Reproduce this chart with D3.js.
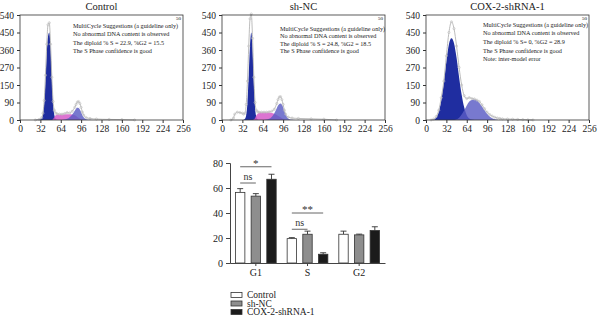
<!DOCTYPE html>
<html>
<head>
<meta charset="utf-8">
<script src="https://cdn.jsdelivr.net/npm/d3@7"></script>
<style>
  body { margin: 0; background: #fff; }
  svg text { font-family: "Liberation Serif", "Times New Roman", "DejaVu Serif", serif !important; }
</style>
</head>
<body>
<script>
// ---- histogram data (channel, counts) ----
const yTickVals = [0, 90, 180, 270, 360, 450, 540];
const yTickLabels = ["0", "90", "150", "270", "360", "450", "540"];
const xTickVals = [0, 32, 64, 96, 128, 160, 192, 224, 256];

const ctrlCh  = [24,30,34,36,38,40,42,44,46,48,50,52,54,56,58,62,66,70,74,78,82,86,88,90,92,94,96,98,100,104,110,120,140,160,180];
const ctrlRaw = [0,3,12,35,100,230,390,490,500,390,220,95,50,36,32,30,30,33,38,36,45,65,80,92,95,85,65,40,25,12,8,5,3,2,0];
const ctrlG1  = [0,2,8,28,85,200,340,430,450,370,210,80,24,6,1,0,0,0,0,0,0,0,0,0,0,0,0,0,0,0,0,0,0,0,0];
const ctrlS   = [0,0,0,0,0,0,0,0,0,0,0,5,15,24,28,28,28,30,30,30,28,24,20,16,12,8,4,1,0,0,0,0,0,0,0];
const ctrlG2  = [0,0,0,0,0,0,0,0,0,0,0,0,0,0,0,0,0,2,6,14,28,48,58,63,62,54,40,25,14,4,1,0,0,0,0];

const ncCh  = [14,18,20,24,28,32,34,36,38,40,42,44,46,48,50,52,54,56,58,62,66,70,74,78,82,86,88,90,92,94,96,98,100,104,110,120,140,160,180];
const ncRaw = [0,10,30,40,38,35,30,35,80,200,380,520,545,420,220,90,50,42,40,40,40,40,42,45,55,85,105,118,120,105,80,50,30,15,10,8,6,4,0];
const ncG1  = [0,0,0,0,0,0,1,6,25,90,230,380,450,360,190,60,15,3,0,0,0,0,0,0,0,0,0,0,0,0,0,0,0,0,0,0,0,0,0];
const ncS   = [0,0,0,0,0,0,0,0,0,0,0,0,0,0,2,10,24,32,36,38,38,38,38,36,32,26,22,18,14,10,6,3,0,0,0,0,0,0,0];
const ncG2  = [0,0,0,0,0,0,0,0,0,0,0,0,0,0,0,0,0,0,0,0,0,2,6,16,34,60,74,82,85,80,65,45,28,8,1,0,0,0,0];

const coxCh  = [8,12,16,20,24,28,32,36,40,44,48,52,56,60,64,68,72,76,80,84,88,92,96,100,104,108,112,116,120,128,136,144,152,160,168];
const coxRaw = [0,5,18,50,115,200,330,450,505,470,380,270,180,125,110,115,110,108,102,95,78,58,40,28,20,14,10,8,6,5,4,3,2,1,0];
const coxG1  = [0,2,12,40,100,190,300,390,420,395,320,220,130,65,25,8,2,0,0,0,0,0,0,0,0,0,0,0,0,0,0,0,0,0,0];
const coxG2  = [0,0,0,0,0,0,0,0,0,0,4,12,28,50,75,95,103,105,100,88,70,50,32,18,9,4,1,0,0,0,0,0,0,0,0];

const ctrlNotes = ["MultiCycle Suggestions (a guideline only)", "No abnormal DNA content is observed",
  "The diploid % S = 22.9, %G2 = 15.5", "The S Phase confidence is good"];
const ncNotes = ["MultiCycle Suggestions (a guideline only)", "No abnormal DNA content is observed",
  "The diploid % S = 24.8, %G2 = 18.5", "The S Phase confidence is good"];
const coxNotes = ["MultiCycle Suggestions (a guideline only)", "No abnormal DNA content is observed",
  "The diploid % S= 0, %G2 = 28.9", "The S Phase confidence is good", "Note: inter-model error"];

// ---- bar chart data ----
const phases = ["G1", "S", "G2"];
const groups = ["Control", "sh-NC", "COX-2-shRNA-1"];
const meanControl = [56.5, 19.5, 23];
const meanNC      = [53.5, 23, 22.5];
const meanCOX     = [67, 7, 26];
const errControl  = [3, 0.8, 2.5];
const errNC       = [2, 2.5, 0.6];
const errCOX      = [4, 1.2, 3];
const barTicks = [0, 20, 40, 60, 80];

const FONT = "'Liberation Serif', 'Times New Roman', serif";
const svg = d3.select("body").append("svg").attr("width", 600).attr("height", 326)
  .attr("font-family", FONT);

function histPanel(x0, title, ch, raw, g1, s, g2, notes, noteX, noteYs) {
  const x = d3.scaleLinear().domain([0, 256]).range([x0, x0 + 163]);
  const y = d3.scaleLinear().domain([0, 540]).range([120, 15]);
  const g = svg.append("g");

  g.append("text").attr("x", x(128)).attr("y", 10).attr("text-anchor", "middle")
    .attr("font-size", 10.5).attr("fill", "#222").text(title);

  const area = vals => d3.area().curve(d3.curveMonotoneX)
    .x((d, i) => x(ch[i])).y0(y(0)).y1((d, i) => y(vals[i]))(vals);

  g.append("path").attr("d", area(g1)).attr("fill", "#1f2da0");
  if (s) g.append("path").attr("d", area(s)).attr("fill", "#d65cc9").attr("opacity", 0.85);
  g.append("path").attr("d", area(g2)).attr("fill", "#5a5cc4").attr("opacity", 0.82);

  const line = d3.line().curve(d3.curveMonotoneX).x((d, i) => x(ch[i])).y(d => y(d));
  g.append("path").attr("d", line(raw)).attr("fill", "none").attr("stroke", "#b4b4b4").attr("stroke-width", 0.9);
  g.selectAll("circle").data(raw).enter().append("circle")
    .attr("cx", (d, i) => x(ch[i])).attr("cy", d => y(d)).attr("r", 1.1)
    .attr("fill", "none").attr("stroke", "#bdbdbd").attr("stroke-width", 0.6);

  // frame
  g.append("rect").attr("x", x(0)).attr("y", y(540)).attr("width", x(256) - x(0))
    .attr("height", y(0) - y(540)).attr("fill", "none").attr("stroke", "#333").attr("stroke-width", 0.8);

  const ya = g.append("g").attr("transform", `translate(${x(0)},0)`)
    .call(d3.axisLeft(y).tickValues(yTickVals).tickFormat((d, i) => yTickLabels[i]).tickSize(3).tickPadding(3));
  const xa = g.append("g").attr("transform", `translate(0,${y(0)})`)
    .call(d3.axisBottom(x).tickValues(xTickVals).tickSize(3).tickPadding(2));
  [ya, xa].forEach(a => {
    a.attr("font-family", FONT);
    a.select(".domain").remove();
    a.selectAll("line").attr("stroke", "#333");
    a.selectAll("text").attr("font-size", 9.5).attr("fill", "#222");
  });

  g.append("text").attr("x", x(256) - 2).attr("y", y(540) + 5).attr("text-anchor", "end")
    .attr("font-size", 5).text("50");
  notes.forEach((t, i) => {
    g.append("text").attr("x", noteX).attr("y", noteYs[i] + 2.2).attr("font-size", 6.2)
      .attr("fill", "#222").text(t);
  });
}

histPanel(20, "Control", ctrlCh, ctrlRaw, ctrlG1, ctrlS, ctrlG2, ctrlNotes, 73, [26, 34, 42.5, 51]);
histPanel(222, "sh-NC", ncCh, ncRaw, ncG1, ncS, ncG2, ncNotes, 280, [28.5, 36, 43.5, 51]);
histPanel(426, "COX-2-shRNA-1", coxCh, coxRaw, coxG1, null, coxG2, coxNotes, 483, [25, 33, 42, 51, 59]);

// ---- bar chart ----
const bx = d3.scaleBand().domain(phases).range([230, 385]);
const bInner = d3.scaleBand().domain(groups).range([0, bx.bandwidth()]).paddingInner(0.4).paddingOuter(0.35);
const by = d3.scaleLinear().domain([0, 80]).range([263, 163]);
const means = [meanControl, meanNC, meanCOX];
const errs = [errControl, errNC, errCOX];
const fills = ["#ffffff", "#8e8e8e", "#1b1b1b"];

const bg = svg.append("g");
const barData = [];
phases.forEach((p, pi) => groups.forEach((gname, gi) => {
  barData.push({ p, gname, gi, v: means[gi][pi], e: errs[gi][pi] });
}));

bg.selectAll(".err").data(barData).enter().append("path")
  .attr("d", d => {
    const cx = bx(d.p) + bInner(d.gname) + bInner.bandwidth() / 2;
    const top = by(d.v + d.e);
    return `M${cx},${by(d.v)}V${top}M${cx - 3},${top}H${cx + 3}`;
  })
  .attr("stroke", "#333").attr("stroke-width", 0.9).attr("fill", "none");

bg.selectAll(".bar").data(barData).enter().append("rect")
  .attr("x", d => bx(d.p) + bInner(d.gname))
  .attr("y", d => by(d.v))
  .attr("width", bInner.bandwidth())
  .attr("height", d => by(0) - by(d.v))
  .attr("fill", d => fills[d.gi]).attr("stroke", "#333").attr("stroke-width", 0.8);

const bya = bg.append("g").attr("transform", "translate(230,0)")
  .call(d3.axisLeft(by).tickValues(barTicks).tickSize(4).tickPadding(3));
const bxa = bg.append("g").attr("transform", "translate(0,263)")
  .call(d3.axisBottom(bx).tickSize(3).tickPadding(3).tickSizeOuter(0));
[bya, bxa].forEach(a => {
  a.attr("font-family", FONT);
  a.select(".domain").attr("stroke", "#444");
  a.selectAll("line").attr("stroke", "#444");
  a.selectAll("text").attr("font-size", 10).attr("fill", "#222");
});

// significance marks
const sig = [
  { p: "G1", a: 0, b: 1, v: 64, label: "ns" },
  { p: "G1", a: 0, b: 2, v: 77, label: "*" },
  { p: "S", a: 0, b: 1, v: 27, label: "ns" },
  { p: "S", a: 0, b: 2, v: 40, label: "**" }
];
sig.forEach(d => {
  const xa = bx(d.p) + bInner(groups[d.a]) + bInner.bandwidth() / 2;
  const xb = bx(d.p) + bInner(groups[d.b]) + bInner.bandwidth() / 2;
  bg.append("line").attr("x1", xa).attr("x2", xb).attr("y1", by(d.v)).attr("y2", by(d.v))
    .attr("stroke", "#555").attr("stroke-width", 0.9);
  bg.append("text").attr("x", (xa + xb) / 2).attr("y", by(d.v) - (d.label === "ns" ? 3 : 0))
    .attr("text-anchor", "middle").attr("font-size", d.label === "ns" ? 10 : 11)
    .attr("fill", "#333").text(d.label);
});

// legend
groups.forEach((gname, i) => {
  const ly = 295 + i * 8.5;
  svg.append("rect").attr("x", 231).attr("y", ly - 2.5).attr("width", 11).attr("height", 5)
    .attr("fill", fills[i]).attr("stroke", "#333").attr("stroke-width", 0.8);
  svg.append("text").attr("x", 247).attr("y", ly + 3.2).attr("font-size", 9.5)
    .attr("fill", "#222").text(gname);
});
</script>
</body>
</html>
